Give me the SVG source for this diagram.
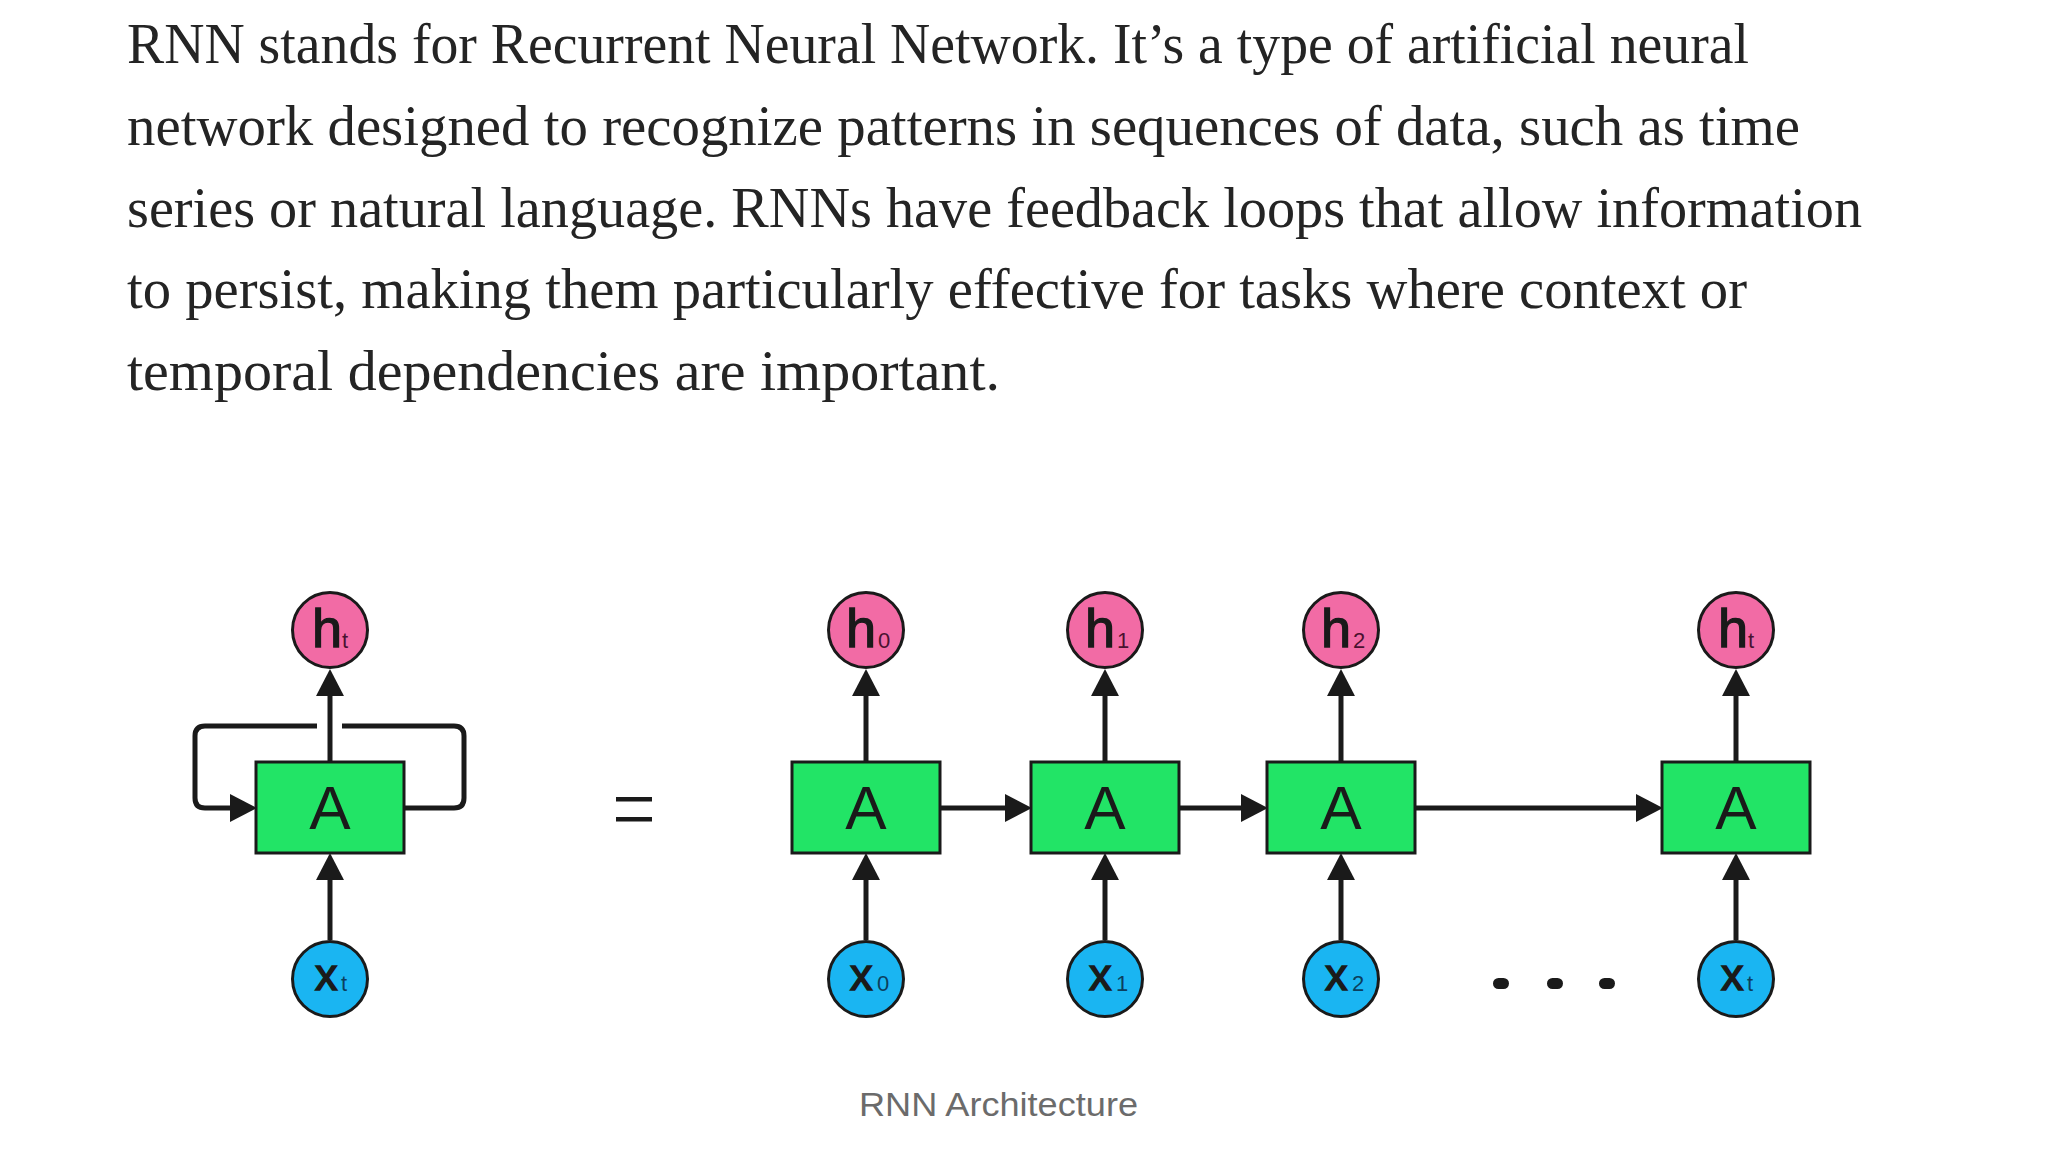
<svg xmlns="http://www.w3.org/2000/svg" width="2048" height="1173" viewBox="0 0 2048 1173">
<defs>
<style>
.body{font-family:"Liberation Serif","Times New Roman",serif;font-size:56px;fill:#242424}
.cap{font-family:"Liberation Sans",Arial,sans-serif;font-size:34px;fill:#6b6b6b}
.box{fill:#22e466;stroke:#1a1a1a;stroke-width:3}
.boxlbl{font-family:"Liberation Sans",Arial,sans-serif;font-size:62px;fill:#1a1a1a;text-anchor:middle}
.hc{fill:#f26ba5;stroke:#1a1a1a;stroke-width:3}
.xc{fill:#1ab5f2;stroke:#1a1a1a;stroke-width:3}
.big{font-family:"Liberation Sans",Arial,sans-serif;font-size:54px;fill:#1a1a1a;stroke:#1a1a1a;stroke-width:1.3}
.xbig{font-family:"Liberation Sans",Arial,sans-serif;font-size:45px;fill:#1a1a1a;stroke:#1a1a1a;stroke-width:1.5}
.hsub{font-family:"Liberation Sans",Arial,sans-serif;font-size:22px;fill:#4a1230}
.xsub{font-family:"Liberation Sans",Arial,sans-serif;font-size:22px;fill:#0b3f5e}
.conn{fill:none;stroke:#1a1a1a;stroke-width:5}
.dot{fill:#1a1a1a}
</style>
<marker id="ah" markerUnits="userSpaceOnUse" markerWidth="27" markerHeight="28" refX="1" refY="13.5" orient="auto" viewBox="0 0 26 27">
<path d="M0,0 L26,13.5 L0,27 z" fill="#1a1a1a"/>
</marker>
</defs>
<rect width="2048" height="1173" fill="#ffffff"/>

<g id="paragraph">
<text class="body" x="127" y="63" textLength="1622" lengthAdjust="spacingAndGlyphs">RNN stands for Recurrent Neural Network. It’s a type of artificial neural</text>
<text class="body" x="127" y="145" textLength="1673" lengthAdjust="spacingAndGlyphs">network designed to recognize patterns in sequences of data, such as time</text>
<text class="body" x="127" y="227" textLength="1735" lengthAdjust="spacingAndGlyphs">series or natural language. RNNs have feedback loops that allow information</text>
<text class="body" x="127" y="308" textLength="1620" lengthAdjust="spacingAndGlyphs">to persist, making them particularly effective for tasks where context or</text>
<text class="body" x="127" y="390" textLength="873" lengthAdjust="spacingAndGlyphs">temporal dependencies are important.</text>
</g>

<g id="connectors">
<path class="conn" d="M330,762 V695" marker-end="url(#ah)"/>
<path class="conn" d="M330,940 V879" marker-end="url(#ah)"/>
<path class="conn" d="M404,808 H454 Q464,808 464,798 V736 Q464,726 454,726 H342"/>
<path class="conn" d="M317,726 H205 Q195,726 195,736 V798 Q195,808 205,808 H231" marker-end="url(#ah)"/>
<path class="conn" d="M866,762 V695" marker-end="url(#ah)"/>
<path class="conn" d="M866,940 V879" marker-end="url(#ah)"/>
<path class="conn" d="M1105,762 V695" marker-end="url(#ah)"/>
<path class="conn" d="M1105,940 V879" marker-end="url(#ah)"/>
<path class="conn" d="M1341,762 V695" marker-end="url(#ah)"/>
<path class="conn" d="M1341,940 V879" marker-end="url(#ah)"/>
<path class="conn" d="M1736,762 V695" marker-end="url(#ah)"/>
<path class="conn" d="M1736,940 V879" marker-end="url(#ah)"/>
<path class="conn" d="M940,808 H1006" marker-end="url(#ah)"/>
<path class="conn" d="M1179,808 H1242" marker-end="url(#ah)"/>
<path class="conn" d="M1415,808 H1637" marker-end="url(#ah)"/>
</g>

<g id="cell-rolled">
<rect class="box" x="256" y="762" width="148" height="91"/>
<text class="boxlbl" x="330" y="829">A</text>
</g>
<g id="h-rolled">
<circle class="hc" cx="330" cy="630" r="37.5"/>
<text class="big" x="312" y="647">h</text><text class="hsub" x="342" y="648">t</text>
</g>
<g id="x-rolled">
<circle class="xc" cx="330" cy="979" r="37.5"/>
<text class="xbig" x="315" y="990">x</text><text class="xsub" x="341" y="991">t</text>
</g>

<g id="equals">
<rect x="616" y="797" width="36" height="4.5" fill="#1a1a1a"/>
<rect x="616" y="817" width="36" height="4.5" fill="#1a1a1a"/>
</g>

<g id="cell-0">
<rect class="box" x="792" y="762" width="148" height="91"/>
<text class="boxlbl" x="866" y="829">A</text>
</g>
<g id="h-0">
<circle class="hc" cx="866" cy="630" r="37.5"/>
<text class="big" x="846" y="647">h</text><text class="hsub" x="878" y="648">0</text>
</g>
<g id="x-0">
<circle class="xc" cx="866" cy="979" r="37.5"/>
<text class="xbig" x="850" y="990">x</text><text class="xsub" x="877" y="991">0</text>
</g>

<g id="cell-1">
<rect class="box" x="1031" y="762" width="148" height="91"/>
<text class="boxlbl" x="1105" y="829">A</text>
</g>
<g id="h-1">
<circle class="hc" cx="1105" cy="630" r="37.5"/>
<text class="big" x="1085" y="647">h</text><text class="hsub" x="1117" y="648">1</text>
</g>
<g id="x-1">
<circle class="xc" cx="1105" cy="979" r="37.5"/>
<text class="xbig" x="1089" y="990">x</text><text class="xsub" x="1116" y="991">1</text>
</g>

<g id="cell-2">
<rect class="box" x="1267" y="762" width="148" height="91"/>
<text class="boxlbl" x="1341" y="829">A</text>
</g>
<g id="h-2">
<circle class="hc" cx="1341" cy="630" r="37.5"/>
<text class="big" x="1321" y="647">h</text><text class="hsub" x="1353" y="648">2</text>
</g>
<g id="x-2">
<circle class="xc" cx="1341" cy="979" r="37.5"/>
<text class="xbig" x="1325" y="990">x</text><text class="xsub" x="1352" y="991">2</text>
</g>

<g id="ellipsis">
<rect class="dot" x="1493" y="978" width="16" height="11" rx="5.5"/>
<rect class="dot" x="1547" y="978" width="16" height="11" rx="5.5"/>
<rect class="dot" x="1599" y="978" width="16" height="11" rx="5.5"/>
</g>

<g id="cell-t">
<rect class="box" x="1662" y="762" width="148" height="91"/>
<text class="boxlbl" x="1736" y="829">A</text>
</g>
<g id="h-t">
<circle class="hc" cx="1736" cy="630" r="37.5"/>
<text class="big" x="1718" y="647">h</text><text class="hsub" x="1748" y="648">t</text>
</g>
<g id="x-t">
<circle class="xc" cx="1736" cy="979" r="37.5"/>
<text class="xbig" x="1721" y="990">x</text><text class="xsub" x="1747" y="991">t</text>
</g>

<g id="caption">
<text class="cap" x="998.5" y="1116" text-anchor="middle" textLength="279" lengthAdjust="spacingAndGlyphs">RNN Architecture</text>
</g>
</svg>
